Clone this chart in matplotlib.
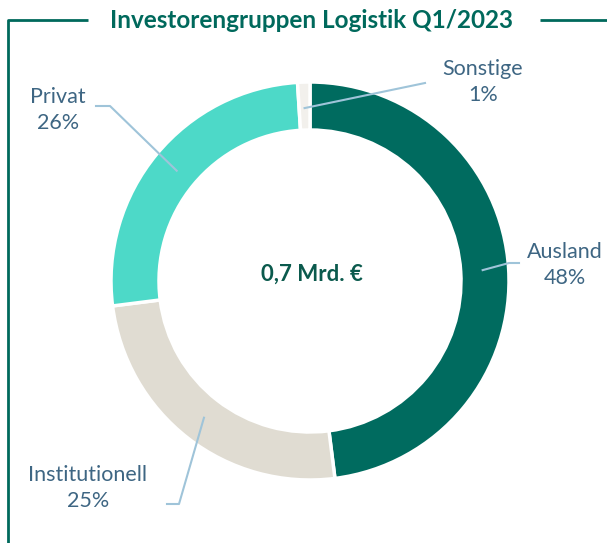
import numpy as np
import matplotlib
matplotlib.use('Agg')
import matplotlib.pyplot as plt

matplotlib.rcParams['font.family'] = ['Lato', 'DejaVu Sans']

# data
title = 'Investorengruppen Logistik Q1/2023'
center_label = '0,7 Mrd. €'
groups = ['Ausland', 'Institutionell', 'Privat', 'Sonstige']
shares = [48, 25, 26, 1]
colors = ['#006B5F', '#E0DCD2', '#4DD9C8', '#F2F0EC']

teal = '#00695C'
dark_teal = '#0B5A4D'
label_col = '#3E6683'
leader_col = '#9FC4D9'

W, H = 607, 543
fig = plt.figure(figsize=(W / 100, H / 100), dpi=100)
ax = fig.add_axes([0, 0, 1, 1])

cx, cy = 310, 262
r_out, ring = 199, 48
ax.pie(shares, colors=colors, startangle=90, counterclock=False,
       center=(cx, cy), radius=r_out,
       wedgeprops=dict(width=ring, edgecolor='white', linewidth=2.5))
ax.set_xlim(0, W)
ax.set_ylim(0, H)
ax.set_aspect('equal')
ax.axis('off')

# label text positions and leader elbows (layout only)
label_pos = {'Ausland': (565, 278), 'Institutionell': (88, 55),
             'Privat': (58, 433), 'Sonstige': (483, 461)}
elbows = {'Ausland': [(509, 280), (519, 280)],
          'Institutionell': [(179, 39), (167, 39)],
          'Privat': [(110, 437), (96, 437)],
          'Sonstige': [(425, 460)]}

cum = np.cumsum([0] + shares[:-1])
r_mid = r_out - ring / 2 - 2
for g, s, c0 in zip(groups, shares, cum):
    ang = np.deg2rad(90 - (c0 + s / 2) / 100 * 360)
    x0, y0 = cx + r_mid * np.cos(ang), cy + r_mid * np.sin(ang)
    pts = [(x0, y0)] + elbows[g]
    ax.plot([p[0] for p in pts], [p[1] for p in pts], color=leader_col, lw=1.5)
    tx, ty = label_pos[g]
    ax.text(tx, ty, f'{g}\n{s}%', ha='center', va='center', fontsize=15.5,
            color=label_col, linespacing=1.35)

ax.text(cx + 2, 269, center_label, ha='center', va='center', fontsize=16,
        fontweight='bold', color=dark_teal)

# title with frame
ax.text(311, 523, title, ha='center', va='center', fontsize=17.5,
        fontweight='bold', color=teal)
ax.plot([8, 8, 88], [0, 523, 523], color=teal, lw=2, solid_capstyle='butt')
ax.plot([540, W], [523, 523], color=teal, lw=2, solid_capstyle='butt')

fig.savefig('out.png', dpi=100)
